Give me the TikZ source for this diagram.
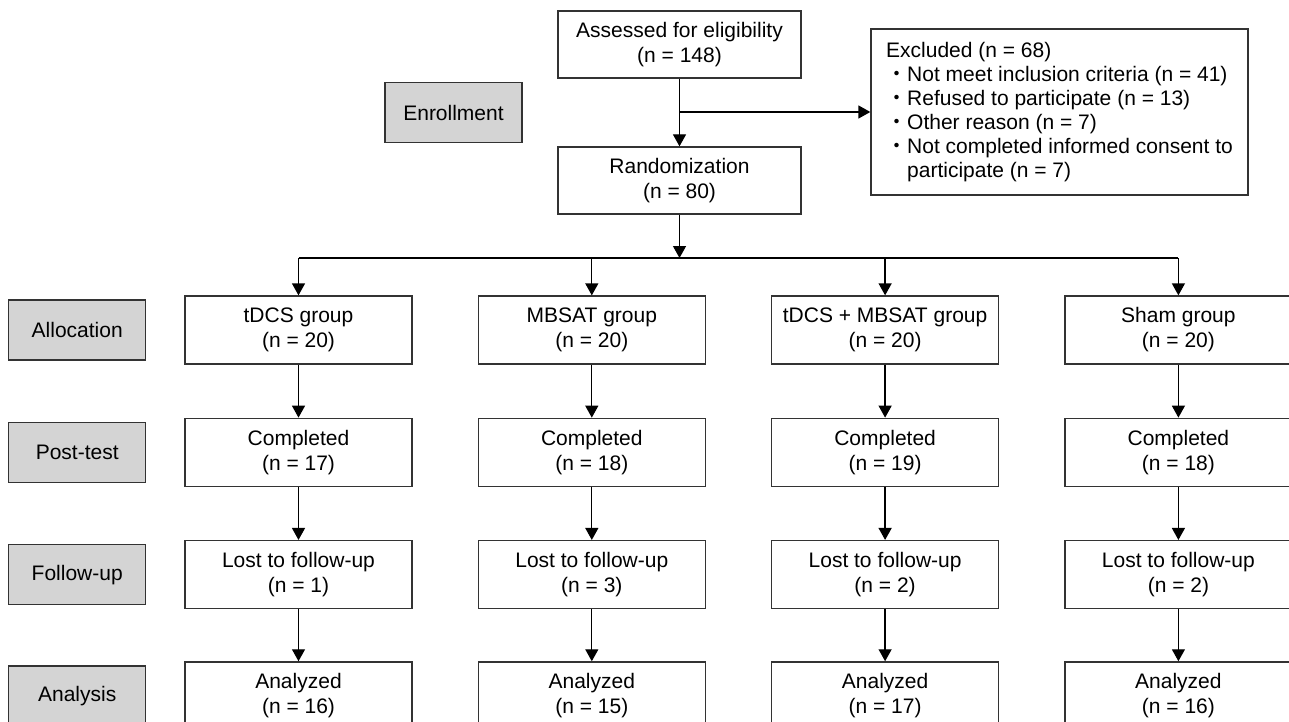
\documentclass[tikz,border=0pt]{standalone}
\usepackage{fontspec}
\setmainfont{Liberation Sans}
\newfontfamily\cjk{Noto Sans CJK JP}
\usepackage{tikz}
\usetikzlibrary{shapes,arrows.meta,positioning}
\definecolor{boxline}{HTML}{333333}
\definecolor{stagefill}{HTML}{D4D4D4}
\tikzstyle{block} = [rectangle, draw=boxline, line width=1.3pt, fill=white,
    align=center, minimum width=227pt, minimum height=68pt, inner sep=2pt,
    font=\fontsize{21}{25}\selectfont]
\tikzstyle{stage} = [rectangle, draw=boxline, line width=1.3pt, fill=stagefill,
    minimum width=137pt, minimum height=60pt, font=\fontsize{21}{25}\selectfont]
\tikzstyle{line} = [draw, line width=1.3pt, -{Triangle[width=13pt,length=12pt]}]

\begin{document}
\begin{tikzpicture}[x=1pt, y=-1pt]
  \useasboundingbox (0,0) rectangle (1289,722);
  % nodes
  \node [block, minimum width=243pt, minimum height=67pt] (assess) at (679.5,44.5) {Assessed for eligibility\\(n = 148)};
  \node [block, minimum width=243pt, minimum height=67pt] (rand) at (679.5,180.5) {Randomization\\(n = 80)};
  \node [block, minimum width=377pt, minimum height=166pt, align=left,
    font=\fontsize{21}{24}\selectfont] (excl) at (1059.5,112) {Excluded (n = 68)\\
    {\cjk ・}Not meet inclusion criteria (n = 41)\\
    {\cjk ・}Refused to participate (n = 13)\\
    {\cjk ・}Other reason (n = 7)\\
    {\cjk ・}Not completed informed consent to\\
    \phantom{\cjk ・}participate (n = 7)};
  \node [stage] (enrol) at (453.5,112.5) {Enrollment};

  \node [block] (tdcs) at (298.5,330) {tDCS group\\(n = 20)};
  \node [block, right=65pt of tdcs] (mbsat) {MBSAT group\\(n = 20)};
  \node [block, right=65pt of mbsat] (combo) {tDCS + MBSAT group\\(n = 20)};
  \node [block, right=65pt of combo] (sham) {Sham group\\(n = 20)};

  \node [block, below=53pt of tdcs] (tdcspost) {Completed\\(n = 17)};
  \node [block, below=53pt of mbsat] (mbsatpost) {Completed\\(n = 18)};
  \node [block, below=53pt of combo] (combopost) {Completed\\(n = 19)};
  \node [block, below=53pt of sham] (shampost) {Completed\\(n = 18)};

  \node [block, below=53pt of tdcspost] (tdcsfol) {Lost to follow-up\\(n = 1)};
  \node [block, below=53pt of mbsatpost] (mbsatfol) {Lost to follow-up\\(n = 3)};
  \node [block, below=53pt of combopost] (combofol) {Lost to follow-up\\(n = 2)};
  \node [block, below=53pt of shampost] (shamfol) {Lost to follow-up\\(n = 2)};

  \node [block, below=52pt of tdcsfol] (tdcsana) {Analyzed\\(n = 16)};
  \node [block, below=52pt of mbsatfol] (mbsatana) {Analyzed\\(n = 15)};
  \node [block, below=52pt of combofol] (comboana) {Analyzed\\(n = 17)};
  \node [block, below=52pt of shamfol] (shamana) {Analyzed\\(n = 16)};

  \node [stage, left=38pt of tdcs] (alloc) {Allocation};
  \node [stage, left=38pt of tdcspost] (post) {Post-test};
  \node [stage, left=38pt of tdcsfol] (follow) {Follow-up};
  \node [stage, left=38pt of tdcsana] (ana) {Analysis};

  % edges
  \coordinate (split) at (assess.south |- excl.west);
  \coordinate (bus) at (679.5,258);
  \path [line] (assess) -- (rand);
  \path [line] (split) -- (excl.west);
  \path [line] (rand) -- (bus);
  \draw [line width=1.3pt] (tdcs.north |- bus) -- (sham.north |- bus);
  \path [line] (tdcs.north |- bus) -- (tdcs);
  \path [line] (mbsat.north |- bus) -- (mbsat);
  \path [line] (combo.north |- bus) -- (combo);
  \path [line] (sham.north |- bus) -- (sham);

  \path [line] (tdcs) -- (tdcspost);
  \path [line] (mbsat) -- (mbsatpost);
  \path [line] (combo) -- (combopost);
  \path [line] (sham) -- (shampost);
  \path [line] (tdcspost) -- (tdcsfol);
  \path [line] (mbsatpost) -- (mbsatfol);
  \path [line] (combopost) -- (combofol);
  \path [line] (shampost) -- (shamfol);
  \path [line] (tdcsfol) -- (tdcsana);
  \path [line] (mbsatfol) -- (mbsatana);
  \path [line] (combofol) -- (comboana);
  \path [line] (shamfol) -- (shamana);
\end{tikzpicture}
\end{document}
